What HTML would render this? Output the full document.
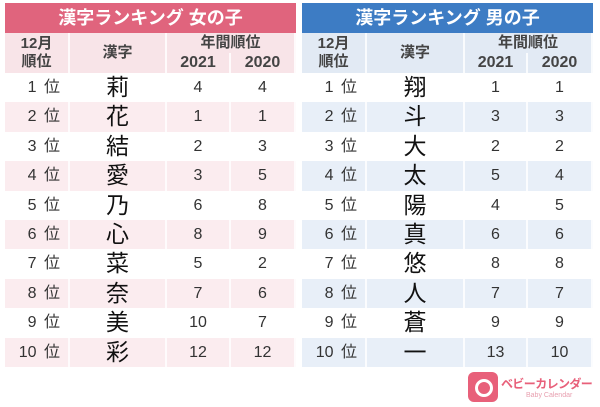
<!DOCTYPE html>
<html><head><meta charset="utf-8">
<style>
body{margin:0;width:600px;height:407px;background:#fff;overflow:hidden;font-family:"Liberation Sans","Noto Sans CJK JP",sans-serif;position:relative}
.t{position:absolute;top:3px;width:291px}
.title{height:30px;line-height:30px;color:#fff;font-weight:bold;font-size:18px;text-align:center}
.c{position:absolute;text-align:center;color:#333;box-sizing:border-box}
.h{font-weight:bold;color:#444;font-size:15px}
.logo{position:absolute;left:468px;top:370px}
</style></head><body>
<div class="t" id="girls" style="left:5px"></div>
<div class="t" id="boys" style="left:302px"></div>
<div class="logo">
<div style="position:absolute;left:0;top:2px;width:30px;height:30px;background:#e8607a;border-radius:6px"></div>
<div style="position:absolute;left:7px;top:9px;width:12px;height:12px;border:3px solid #fff;border-radius:50%"></div>
<div style="position:absolute;left:33px;top:5px;color:#e8607a;font-size:12px;font-weight:bold;white-space:nowrap;letter-spacing:-0.6px">ベビーカレンダー</div>
<div style="position:absolute;left:58px;top:22px;color:#e8a0b0;font-size:7px;white-space:nowrap">Baby Calendar</div>
</div>
<script>
const ranks=["1 位","2 位","3 位","4 位","5 位","6 位","7 位","8 位","9 位","10 位"];
const girlKanji=["莉","花","結","愛","乃","心","菜","奈","美","彩"];
const girl2021=[4,1,2,3,6,8,5,7,10,12];
const girl2020=[4,1,3,5,8,9,2,6,7,12];
const boyKanji=["翔","斗","大","太","陽","真","悠","人","蒼","一"];
const boy2021=[1,3,2,5,4,6,8,7,9,13];
const boy2020=[1,3,2,4,5,6,8,7,9,10];
function build(id,title,tc,hc,alt,kanji,a,b,cols){
  const t=document.getElementById(id);
  const ti=document.createElement('div');ti.className='title';ti.style.background=tc;ti.textContent=title;
  
  
  t.appendChild(ti);
  function cell(x,y,w,h,txt,bg,cls,name,fs){
    const d=document.createElement('div');d.className='c '+(cls||'');
    d.style.cssText+=`left:${x}px;top:${y}px;width:${w}px;height:${h}px;line-height:${h}px;background:${bg};border-right:2px solid rgba(255,255,255,0.8);font-size:${fs||16}px`;
    d.textContent=txt;
    
    
    t.appendChild(d);return d;
  }
  const W=[cols[1]-cols[0],cols[2]-cols[1],cols[3]-cols[2],cols[4]-cols[3]];
  const X=[0,cols[1]-cols[0],cols[2]-cols[0],cols[3]-cols[0]];
  let h1=cell(X[0],30,W[0],40,'',hc,'h','header-month-rank',15);h1.innerHTML='<div style="line-height:18px;padding-top:2px">12月<br>順位</div>';
  cell(X[1],30,W[1],40,'漢字',hc,'h','header-kanji',15);
  cell(X[2],30,W[2]+W[3],20,'年間順位',hc,'h','header-annual-rank',15);
  cell(X[2],50,W[2],20,'2021',hc,'h','header-2021',16);
  cell(X[3],50,W[3],20,'2020',hc,'h','header-2020',16);
  const rh=29.4;
  for(let i=0;i<10;i++){
    const y=70+i*rh, bg=i%2?alt:'#fff';
    cell(X[0],y,W[0],rh,ranks[i],bg,'','rank-cell',16).style.textAlign='right';
    t.lastChild.style.paddingRight='8px';
    t.lastChild.style.wordSpacing='3px';
    cell(X[1],y,W[1],rh,kanji[i],bg,'','kanji-cell',23).style.color='#111';
    cell(X[2],y,W[2],rh,a[i],bg,'','rank-2021-cell',16);
    cell(X[3],y,W[3],rh,b[i],bg,'','rank-2020-cell',16);
  }
}
build('girls','漢字ランキング 女の子','#e0647d','#f8e4e8','#fbecef',girlKanji,girl2021,girl2020,[5,70,167,231,296]);
build('boys','漢字ランキング 男の子','#3d7cc4','#e2eaf4','#e8eff8',boyKanji,boy2021,boy2020,[302,367,465,528,593]);
</script>
</body></html>
